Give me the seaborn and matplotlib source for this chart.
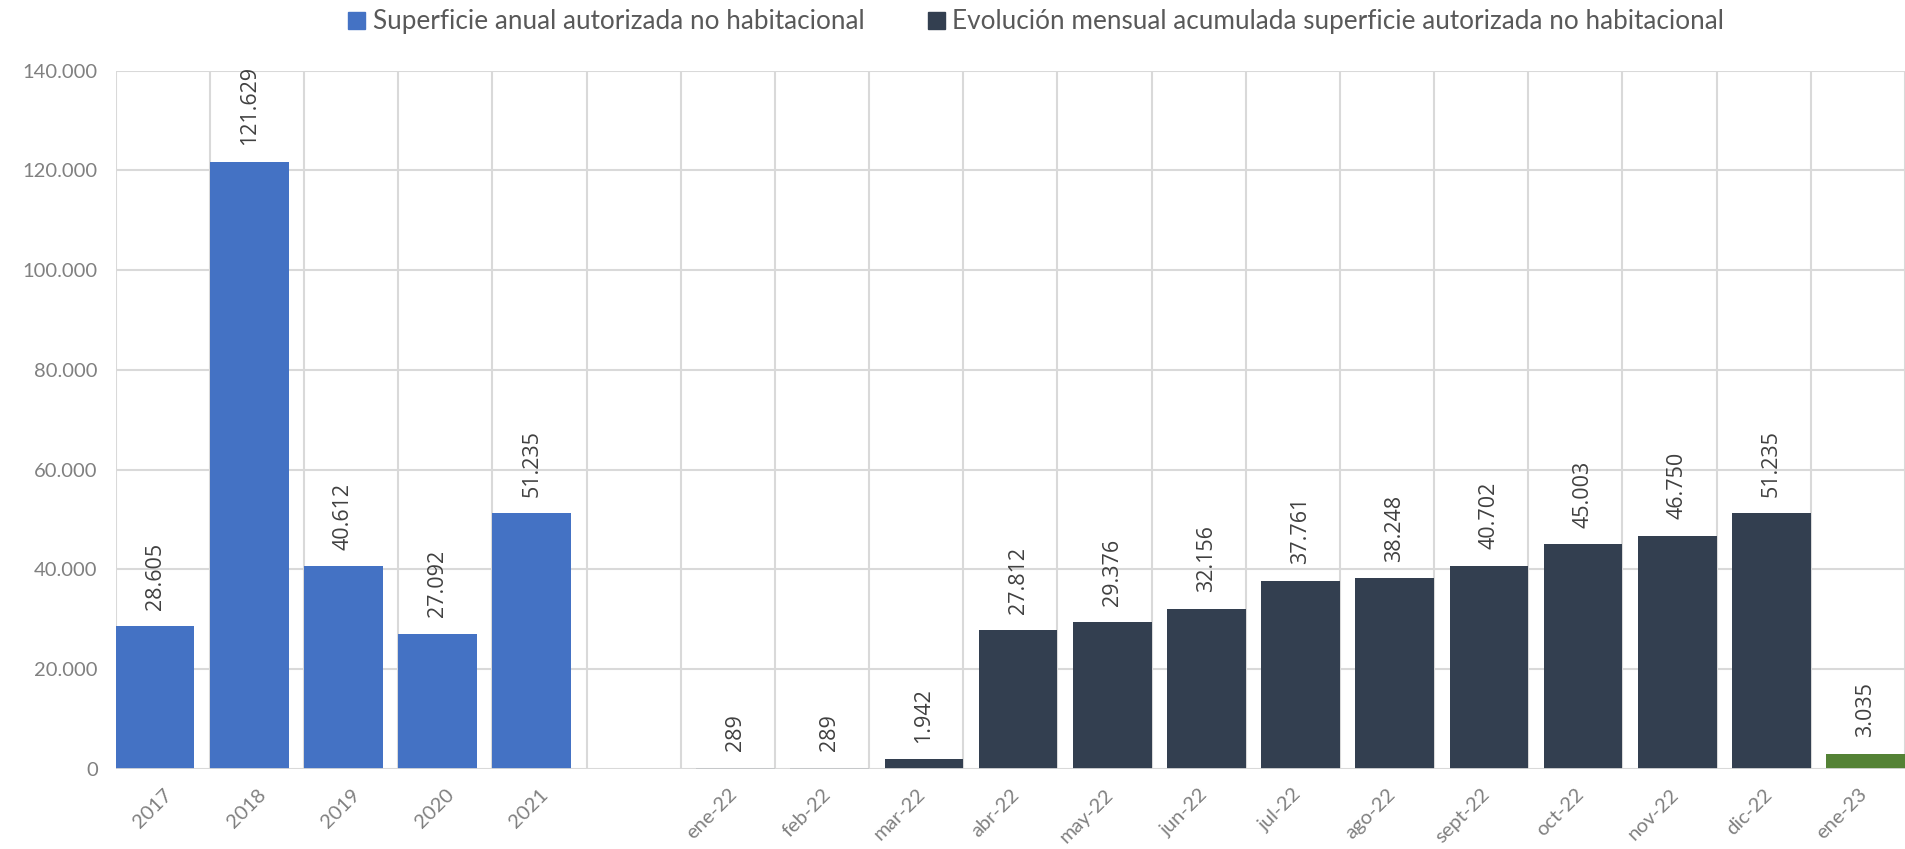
import numpy as np
import pandas as pd
import matplotlib
matplotlib.use("Agg")
import matplotlib.pyplot as plt
from matplotlib.patches import Patch
import seaborn as sns

# categories (the empty one is the gap between years and months)
categories = ["2017", "2018", "2019", "2020", "2021", "",
              "ene-22", "feb-22", "mar-22", "abr-22", "may-22", "jun-22",
              "jul-22", "ago-22", "sept-22", "oct-22", "nov-22", "dic-22", "ene-23"]
anual = [28605, 121629, 40612, 27092, 51235]
mensual = [289, 289, 1942, 27812, 29376, 32156, 37761, 38248, 40702, 45003, 46750, 51235]
ene23 = [3035]

lbl_anual = "Superficie anual autorizada no habitacional"
lbl_mensual = "Evolución mensual acumulada superficie autorizada no habitacional"

c_blue = "#4472C4"
c_dark = "#333F50"
c_green = "#548235"

W = 0.836  # bar width as fraction of the category
rows = []
for i, v in enumerate(anual):
    rows.append((i + W / 2, v, "anual"))
for j, v in enumerate(mensual):
    rows.append((6 + j + 1 - W / 2, v, "mensual"))
for j, v in enumerate(ene23):
    rows.append((6 + len(mensual) + j + 1 - W / 2, v, "ene23"))
df = pd.DataFrame(rows, columns=["pos", "valor", "serie"])

sns.set_theme(style="white")
plt.rcParams["font.family"] = ["Lato", "DejaVu Sans"]

fig = plt.figure(figsize=(19.05, 8.49), dpi=100)
ax = fig.add_axes([115.7 / 1905, 80 / 849, 1 - 115.7 / 1905, (769 - 70.5) / 849])

sns.barplot(data=df, x="pos", y="valor", hue="serie", native_scale=True,
            dodge=False, width=W, legend=False, ax=ax, saturation=1,
            palette={"anual": c_blue, "mensual": c_dark, "ene23": c_green},
            linewidth=0, zorder=3)

for _, r in df.iterrows():
    txt = f"{int(r.valor):,}".replace(",", ".")
    ax.annotate(txt, (r.pos, r.valor), xytext=(0, 12), textcoords="offset points",
                rotation=90, ha="center", va="bottom", fontsize=15.5,
                color="#404040", family=["Open Sans", "DejaVu Sans"])

ax.set_xlim(0, (1905 - 115.7) / 95.4)
ax.set_ylim(0, 140000)
ax.set_yticks(np.arange(0, 140001, 20000))
ax.set_yticklabels([f"{int(t):,}".replace(",", ".") for t in np.arange(0, 140001, 20000)])

ax.set_xticks(np.arange(len(categories)) + 0.5)
ax.set_xticklabels(categories, rotation=45, ha="right", rotation_mode="anchor")
ax.set_xticks(np.arange(len(categories) + 1), minor=True)
ax.grid(axis="x", which="minor", color="#D9D9D9", linewidth=1.5, zorder=0)
ax.grid(axis="y", which="major", color="#D9D9D9", linewidth=1.5, zorder=0)
ax.set_axisbelow(True)
ax.tick_params(axis="both", which="both", length=0, labelsize=14.5, labelcolor="#808080")
ax.tick_params(axis="y", pad=13)
ax.tick_params(axis="x", pad=12)
for s in ax.spines.values():
    s.set_visible(False)
ax.axhline(0, color="#D9D9D9", linewidth=2, zorder=4)
ax.set_xlabel("")
ax.set_ylabel("")

handles = [Patch(color=c_blue, label=lbl_anual), Patch(color=c_dark, label=lbl_mensual)]
fig.legend(handles=handles, loc="center", bbox_to_anchor=(0.544, 1 - 22 / 849),
           ncol=2, frameon=False, fontsize=18.8, handlelength=0.65, handleheight=0.65,
           handletextpad=0.3, columnspacing=2.4, labelcolor="#595959")

fig.savefig("out.png", dpi=100)
